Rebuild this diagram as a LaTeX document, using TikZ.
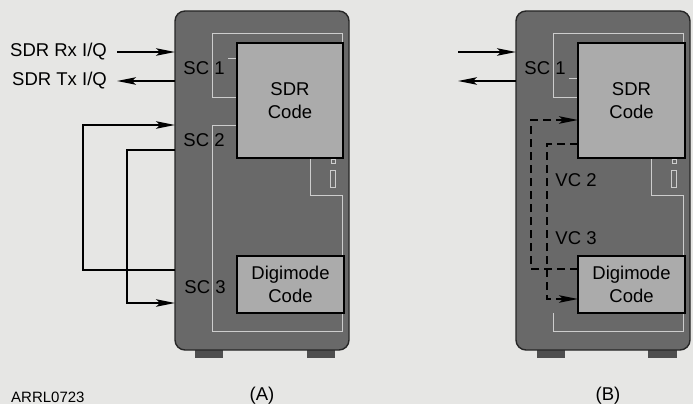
\documentclass[tikz,border=0pt]{standalone}
\usepackage{fontspec}
\setmainfont{Liberation Sans}
\usetikzlibrary{arrows.meta}
\definecolor{bg}{HTML}{E6E6E4}
\definecolor{bodyc}{HTML}{696969}
\definecolor{boxc}{HTML}{ABABAB}
\definecolor{linec}{HTML}{CDCDCD}
\definecolor{footc}{HTML}{4E4E4E}
\tikzset{
  body/.style={draw=black!85, line width=1.4pt, fill=bodyc, rounded corners=10pt,
    minimum width=174pt, minimum height=339pt, anchor=north west, inner sep=0, outer sep=0},
  codebox/.style={draw=black, line width=2.2pt, fill=boxc, anchor=north west, inner sep=0, outer sep=0,
    align=center, font=\fontsize{18.5}{23}\selectfont},
  lbl/.style={font=\fontsize{18.5}{22}\selectfont, inner sep=0},
  inner/.style={draw=linec, line width=0.7pt},
  foot/.style={fill=footc, draw=none},
  conn/.style={line width=1.2pt, draw=black},
  tip/.style={-{Stealth[length=19pt,width=7.5pt,inset=4pt]}},
  dashconn/.style={conn, line width=1.3pt, dash pattern=on 8pt off 5pt},
}
\begin{document}
\begin{tikzpicture}[x=1pt,y=-1pt]
\fill[bg] (0,0) rectangle (693,404);
\useasboundingbox (0,0) rectangle (693,404);
% feet
\fill[foot] (195,346) rectangle (223,358);
\fill[foot] (307,346) rectangle (335,358);
\fill[foot] (537,346) rectangle (565,358);
\fill[foot] (648,346) rectangle (677,358);
% bodies
\node[body] (bodyA) at (175,11) {};
\node[body] (bodyB) at (516,11) {};
% inner outlines A
\draw[inner] (237,97) -- (212,97) -- (212,33) -- (342,33) -- (342,45);
\draw[inner] (228,58) -- (237,58);
\draw[inner] (237,125) -- (212,125) -- (212,331) -- (342,331) -- (342,195) -- (310,195) -- (310,158);
\draw[inner] (330,170) rectangle (335,187);
\draw[inner] (331,159) rectangle (335,163);
% inner outlines B
\draw[inner] (578,97) -- (553,97) -- (553,33) -- (683,33) -- (683,45);
\draw[inner] (569,78) -- (578,78);
\draw[inner] (553,313) -- (553,331) -- (683,331) -- (683,195) -- (651,195) -- (651,158);
\draw[inner] (671,170) rectangle (676,187);
\draw[inner] (672,159) rectangle (676,163);
% code boxes
\node[codebox, minimum width=106pt, minimum height=115pt] (sdrA) at (237,43) {SDR\\Code};
\node[codebox, minimum width=107pt, minimum height=57pt] (digiA) at (237,256) {Digimode\\Code};
\node[codebox, minimum width=107pt, minimum height=115pt] (sdrB) at (578,43) {SDR\\Code};
\node[codebox, minimum width=107pt, minimum height=57pt] (digiB) at (578,256) {Digimode\\Code};
% labels
\node[lbl, anchor=east] (rxA) at (107,52) {SDR Rx I/Q};
\node[lbl, anchor=east] (txA) at (107,81) {SDR Tx I/Q};
\node[lbl] (sc1A) at (204,68) {SC 1};
\node[lbl] (sc2A) at (204,140) {SC 2};
\node[lbl] (sc3A) at (205,287) {SC 3};
\node[lbl] (sc1B) at (545,68) {SC 1};
\node[lbl] (vc2B) at (576,180) {VC 2};
\node[lbl] (vc3B) at (576,238) {VC 3};
\node[lbl] (capA) at (262,396) {(A)};
\node[lbl] (capB) at (608,396) {(B)};
\node[font=\fontsize{15}{17}\selectfont, inner sep=0, anchor=west] (arrl) at (11,397) {ARRL0723};
% connection points
\coordinate (inA) at (175,52);
\coordinate (outA) at (175,81);
\coordinate (in2A) at (175,125);
\coordinate (out2A) at (175,150);
\coordinate (out3A) at (175,270);
\coordinate (in3A) at (175,303);
\coordinate (loop1) at (83,125);
\coordinate (loop2) at (127,303);
\coordinate (srcB) at (458,52);
\coordinate (dstB) at (458,81);
\coordinate (inB) at (516,52);
\coordinate (outB) at (516,81);
\coordinate (vloop1) at (531,120);
\coordinate (vloop2) at (547,299);
% A connectors
\draw[conn, tip] ([xshift=10pt]rxA.east |- inA) -- (inA);
\draw[conn, tip] (outA) -- ([xshift=10pt]txA.east |- outA);
\draw[conn, tip] (out3A) -| (loop1) -- (in2A);
\draw[conn, tip] (out2A) -| (loop2) -- (in3A);
% B connectors
\draw[conn, tip] (srcB) -- (inB);
\draw[conn, tip] (outB) -- (dstB);
\draw[dashconn, tip] (digiB.west |- 0,269) -| (vloop1) -- (sdrB.west |- vloop1);
\draw[dashconn, tip] (sdrB.west |- 0,144) -| (vloop2) -- (digiB.west |- vloop2);
\end{tikzpicture}
\end{document}
